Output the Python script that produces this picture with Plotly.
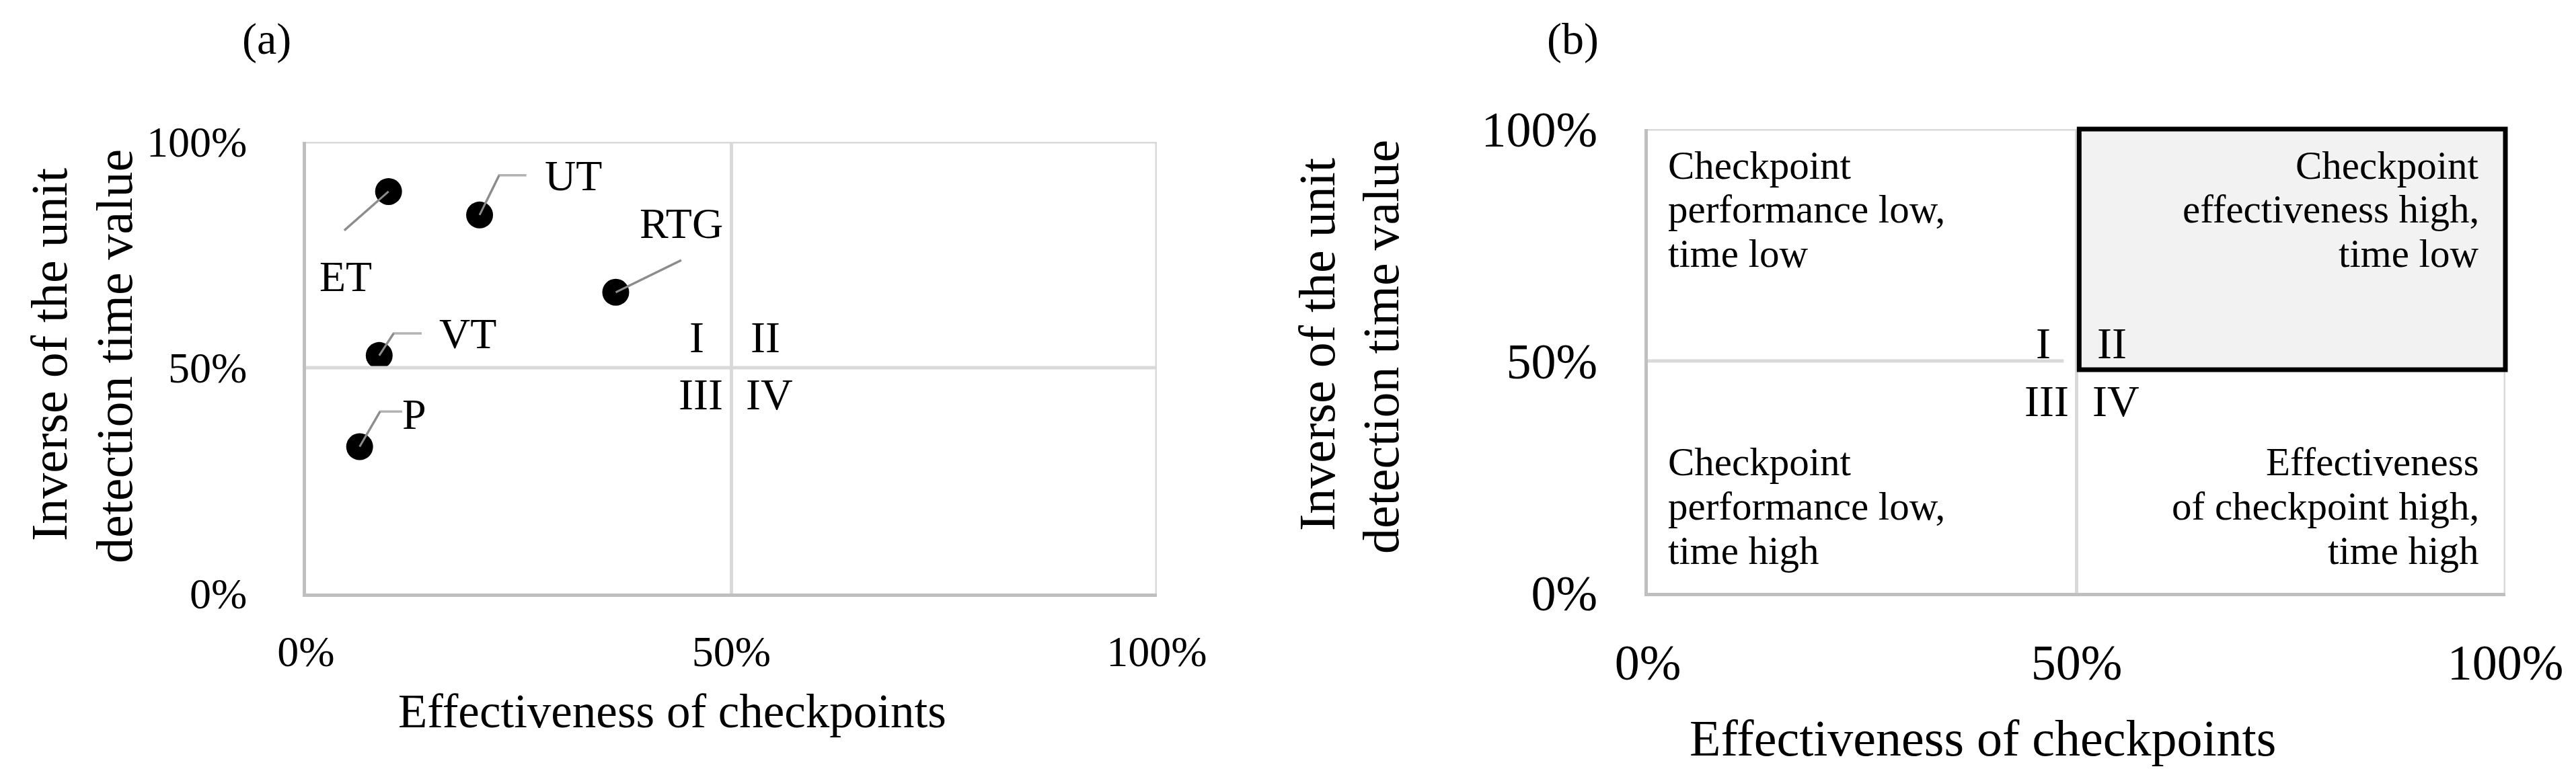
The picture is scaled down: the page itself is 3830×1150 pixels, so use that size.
import plotly.graph_objects as go

# ---- data -------------------------------------------------------------
checkpoints = ["ET", "UT", "RTG", "VT", "P"]
effectiveness = [0.097, 0.204, 0.364, 0.086, 0.063]
inverse_time = [0.890, 0.838, 0.667, 0.527, 0.325]

# label placement for panel (a) (data units) and leader elbows
label_x = [0.047, 0.314, 0.441, 0.190, 0.127]
label_y = [0.701, 0.925, 0.819, 0.575, 0.396]
leader_x = [[0.045], [0.227, 0.259], [0.441], [0.103, 0.136], [0.087, 0.113]]
leader_y = [[0.804], [0.926, 0.926], [0.738], [0.576, 0.576], [0.403, 0.403]]

quadrants = ["I", "II", "III", "IV"]
quad_a_x = [0.459, 0.540, 0.464, 0.545]
quad_a_y = [0.567, 0.567, 0.441, 0.441]
quad_b_x = [0.461, 0.541, 0.465, 0.546]
quad_b_y = [0.538, 0.538, 0.414, 0.414]

tick_vals = [0, 0.5, 1]
tick_text = ["0%", "50%", "100%"]

text_tl = ["Checkpoint", "performance low,", "time low"]
text_tr = ["Checkpoint", "effectiveness high,", "time low"]
text_bl = ["Checkpoint", "performance low,", "time high"]
text_br = ["Effectiveness", "of checkpoint high,", "time high"]
line_y_top = [0.922, 0.827, 0.732]
line_y_bot = [0.282, 0.187, 0.092]

x_title = "Effectiveness of checkpoints"
y_title = ["Inverse of the unit", "detection time value"]

SERIF = "Liberation Serif, Times New Roman, serif"
W, H = 3830, 1150

XA = [447 / W, 1712 / W]
YA = [1 - 875 / H, 1 - 203 / H]
XB = [2442 / W, 3717 / W]
YB = [1 - 874 / H, 1 - 184 / H]


def px(dom, v):
    return dom[0] + v * (dom[1] - dom[0])


fig = go.Figure()

# leader lines
for i in range(len(checkpoints)):
    fig.add_trace(go.Scatter(
        x=[effectiveness[i]] + leader_x[i], y=[inverse_time[i]] + leader_y[i],
        mode="lines", line=dict(color="#b3b3b3", width=3.5),
        xaxis="x", yaxis="y", hoverinfo="skip", showlegend=False))

fig.add_trace(go.Scatter(
    x=effectiveness, y=inverse_time, mode="markers", text=checkpoints,
    marker=dict(color="black", size=40), xaxis="x", yaxis="y", showlegend=False))

# short leader stub visible over the dot
for i in range(len(checkpoints)):
    fig.add_trace(go.Scatter(
        x=[effectiveness[i], leader_x[i][0]], y=[inverse_time[i], leader_y[i][0]],
        mode="lines", line=dict(color="#8c8c8c", width=3),
        xaxis="x", yaxis="y", hoverinfo="skip", showlegend=False))


def note(x, y, text, size, xref="paper", yref="paper", **kw):
    d = dict(x=x, y=y, xref=xref, yref=yref, text=text, showarrow=False,
             xanchor="center", yanchor="middle",
             font=dict(family=SERIF, size=size, color="black"))
    d.update(kw)
    return d


ann = []
for i, name in enumerate(checkpoints):
    ann.append(note(label_x[i], label_y[i], name, 64, "x", "y"))
for i, q in enumerate(quadrants):
    ann.append(note(quad_a_x[i], quad_a_y[i], q, 66, "x", "y"))
    ann.append(note(quad_b_x[i], quad_b_y[i], q, 66, "x2", "y2"))

for lines, xpos, anchor, ys in [(text_tl, 0.022, "left", line_y_top),
                                (text_tr, 0.971, "right", line_y_top),
                                (text_bl, 0.022, "left", line_y_bot),
                                (text_br, 0.971, "right", line_y_bot)]:
    for t, yy in zip(lines, ys):
        ann.append(note(xpos, yy, t, 59, "x2", "y2", xanchor=anchor))

# panel letters
ann.append(note(388 / W, 1 - 50 / H, "(a)", 66))
ann.append(note(2330 / W, 1 - 50 / H, "(b)", 66))

# axis titles
ann.append(note(992 / W, 1 - 1050 / H, x_title, 71))
ann.append(note(2940 / W, 1 - 1090 / H, x_title, 76))
for xp, yp, t in [(65, 520, y_title[0]), (162, 522, y_title[1]),
                  (1950, 505, y_title[0]), (2045, 508, y_title[1])]:
    ann.append(note(xp / W, 1 - yp / H, t, 76, textangle=-90))

# frame / quadrant lines
shapes = []
light = dict(color="#d9d9d9", width=5)
for xr, yr in [("x", "y"), ("x2", "y2")]:
    shapes.append(dict(type="line", xref=xr, yref=yr, x0=0, x1=1, y0=1, y1=1, line=light))
    shapes.append(dict(type="line", xref=xr, yref=yr, x0=1, x1=1, y0=0, y1=1, line=light))
    shapes.append(dict(type="line", xref=xr, yref=yr, x0=0.5, x1=0.5, y0=0, y1=1, line=light))
shapes.append(dict(type="line", xref="x", yref="y", x0=0, x1=1, y0=0.5, y1=0.5, line=light))
shapes.append(dict(type="line", xref="x2", yref="y2", x0=0, x1=0.485, y0=0.5, y1=0.5, line=light))
# highlighted quadrant II (paper refs so the thick border is not clipped)
shapes.append(dict(type="rect", xref="paper", yref="paper",
                   x0=px(XB, 0.503), x1=px(XB, 1.0), y0=px(YB, 0.481), y1=px(YB, 1.0),
                   fillcolor="#f2f2f2", line=dict(color="black", width=7), layer="above"))

axis_common = dict(range=[0, 1], showgrid=False, zeroline=False, ticks="",
                   tickvals=tick_vals, ticktext=tick_text, showline=True,
                   linecolor="#bfbfbf", linewidth=5, fixedrange=True, automargin=False)

fig.update_layout(
    width=W, height=H, paper_bgcolor="white", plot_bgcolor="white",
    margin=dict(l=0, r=0, t=0, b=0, pad=0), showlegend=False,
    xaxis=dict(domain=XA, anchor="y", ticklabelstandoff=26,
               tickfont=dict(family=SERIF, size=64, color="black"), **axis_common),
    yaxis=dict(domain=YA, anchor="x", ticklabelstandoff=70,
               tickfont=dict(family=SERIF, size=64, color="black"), **axis_common),
    xaxis2=dict(domain=XB, anchor="y2", ticklabelstandoff=35,
                tickfont=dict(family=SERIF, size=74, color="black"), **axis_common),
    yaxis2=dict(domain=YB, anchor="x2", ticklabelstandoff=55,
                tickfont=dict(family=SERIF, size=74, color="black"), **axis_common),
    annotations=ann, shapes=shapes,
)

fig.write_html("out.html")
